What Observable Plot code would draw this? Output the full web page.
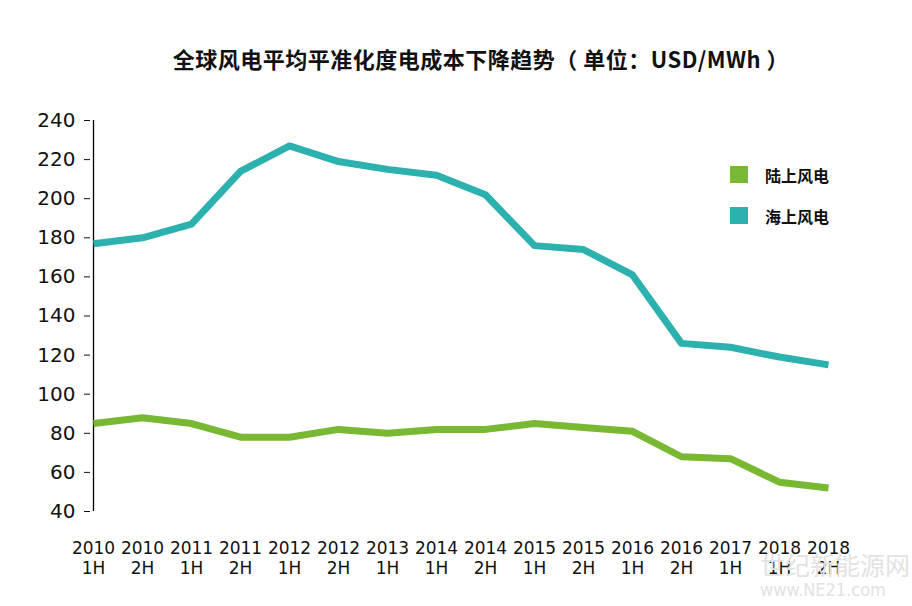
<!DOCTYPE html>
<html>
<head>
<meta charset="utf-8">
<script src="https://cdn.jsdelivr.net/npm/d3@7"></script>
<script src="https://cdn.jsdelivr.net/npm/@observablehq/plot@0.6"></script>
<style>
  body { margin: 0; background: #fff; }
  #chart { position: relative; width: 912px; height: 606px; overflow: hidden; }
  #title {
    position: absolute; left: 0; width: 962px; top: 42px; text-align: center; white-space: nowrap;
    font: bold 22px "Noto Sans CJK SC", "Noto Sans", sans-serif; color: #111; letter-spacing: 0.5px;
  }
  #legend { position: absolute; left: 730px; top: 164px;
    font: 600 16px "Noto Sans CJK SC", sans-serif; color: #111; }
  .item { display: flex; align-items: center; height: 21px; margin-bottom: 20px; }
  .sw { width: 18px; height: 17px; margin-right: 17px; }
  #wm { position: absolute; left: 760px; top: 549px; color: #e2e2e2; white-space: nowrap;
    font: 25px "Noto Sans CJK SC", sans-serif; line-height: 30px; }
  #wm span { display: block; font: 18px "DejaVu Sans Condensed", sans-serif; line-height: 22px; }
</style>
</head>
<body>
<div id="chart">
  <div id="title">全球风电平均平准化度电成本下降趋势（ 单位：USD/MWh ）</div>
  <div id="legend"></div>
  <div id="wm">世纪新能源网<span>www.NE21.com</span></div>
</div>
<script>
const periods = ["2010 1H", "2010 2H", "2011 1H", "2011 2H", "2012 1H", "2012 2H", "2013 1H", "2014 1H",
  "2014 2H", "2015 1H", "2015 2H", "2016 1H", "2016 2H", "2017 1H", "2018 1H", "2018 2H"]
const onshore = [85, 88, 85, 78, 78, 82, 80, 82, 82, 85, 83, 81, 68, 67, 55, 52]
const offshore = [177, 180, 187, 214, 227, 219, 215, 212, 202, 176, 174, 161, 126, 124, 119, 115]
const seriesNames = ["陆上风电", "海上风电"]
const colors = ["#78b832", "#2cb1ae"]
const yTicks = [40, 60, 80, 100, 120, 140, 160, 180, 200, 220, 240]

const data = []
periods.forEach((p, i) => {
  data.push({period: p, value: onshore[i], series: seriesNames[0]})
  data.push({period: p, value: offshore[i], series: seriesNames[1]})
})

const chart = Plot.plot({
  width: 912,
  height: 606,
  marginLeft: 90,
  marginRight: 81,
  marginTop: 120,
  marginBottom: 95,
  style: {fontFamily: "DejaVu Sans", color: "#111", background: "transparent"},
  x: {type: "point", domain: periods, padding: 0},
  y: {domain: [40, 240]},
  color: {domain: seriesNames, range: colors},
  marks: [
    Plot.axisY({ticks: yTicks, tickSize: 6, tickPadding: 9, fontSize: 20, label: null}),
    Plot.axisX({tickSize: 0, tickPadding: 28, fontSize: 17, lineHeight: 1.2, label: null,
      tickFormat: d => d.replace(" ", "\n"),
      style: {fontFamily: "DejaVu Sans Condensed, DejaVu Sans", fontStretch: "condensed", fontWeight: 300}}),
    Plot.ruleX([periods[0]], {stroke: "#000", strokeWidth: 1.3}),
    Plot.ruleY([40], {x1: periods[0], x2: periods[periods.length - 1], stroke: "#000", strokeWidth: 1.3}),
    Plot.line(data, {x: "period", y: "value", z: "series", stroke: "series", strokeWidth: 7,
      strokeLinejoin: "round", strokeLinecap: "butt"})
  ]
})

document.getElementById("chart").prepend(chart)
chart.style.position = "absolute"
chart.style.left = "0"
chart.style.top = "0"

const legend = d3.select("#legend")
seriesNames.forEach((n, i) => {
  const row = legend.append("div").attr("class", "item")
  row.append("div").attr("class", "sw").style("background", colors[i])
  row.append("span").text(n)
})
</script>
</body>
</html>
